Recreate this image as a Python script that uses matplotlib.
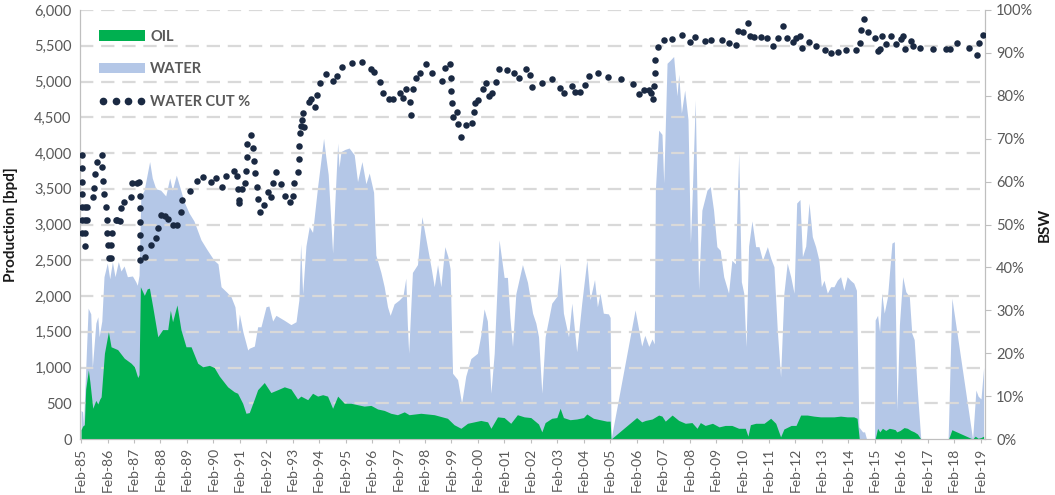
import matplotlib
matplotlib.use("Agg")
import matplotlib.pyplot as plt
from matplotlib.patches import Patch
from matplotlib.lines import Line2D
from matplotlib.ticker import FuncFormatter, MultipleLocator

plt.rcParams['font.family'] = ['Lato', 'DejaVu Sans']

# x values are months since Feb-1985
gross_months = [0, 0.7, 1.1, 3.2, 4.4, 5.1, 6.7, 7.6, 8.2, 9.4, 10.4, 11.9, 13.0, 14.2, 15.4, 16.9,
                18.1, 19.5, 21.0, 23.3, 24.8, 25.5, 26.3, 27.1, 28.6, 30.1, 31.1, 32.3, 33.9, 36.1,
                38.4, 40.2, 41.4, 43.2, 45.2, 46.7, 49.0, 51.2, 54.4, 57.1, 60.3, 62.1, 63.5, 66.2,
                68.0, 69.8, 71.0, 71.8, 73.4, 75.6, 76.3, 78.6, 80.1, 81.6, 83.9, 85.2, 86.9, 88.4,
                92.2, 95.2, 97.5, 98.8, 99.6, 100.5, 102.0, 103.5, 105.0, 107.3, 108.8, 110.0,
                111.0, 112.1, 114.1, 115.1, 116.4, 117.0, 117.9, 119.7, 121.6, 123.9, 125.4, 127.4,
                129.2, 130.7, 132.7, 133.7, 136.0, 137.5, 139.0, 140.2, 142.0, 144.3, 146.0, 147.3,
                148.0, 148.6, 150.3, 152.6, 154.6, 156.4, 158.7, 160.2, 161.7, 163.2, 165.0, 166.4,
                167.4, 168.5, 170.8, 172.6, 174.5, 176.8, 179.8, 181.3, 182.8, 184.3, 185.9, 187.4,
                189.6, 191.9, 193.4, 194.5, 195.7, 197.2, 200.2, 202.5, 204.8, 206.3, 207.5, 209.0,
                210.5, 213.5, 215.8, 217.3, 218.8, 221.1, 222.6, 224.8, 227.1, 229.4, 230.9, 232.9,
                234.2, 235.4, 236.9, 239.2, 240.0, 240.4, 251.3, 254.3, 255.7, 257.5, 259.0, 260.0,
                260.5, 262.0, 263.5, 264.3, 265.8, 267.3, 268.8, 270.3, 271.1, 272.3, 273.8, 275.3,
                276.4, 277.2, 278.6, 280.1, 281.6, 283.9, 285.4, 286.9, 288.4, 289.9, 291.5, 293.7,
                295.2, 296.8, 298.3, 299.5, 300.6, 301.6, 302.8, 304.3, 306.0, 307.5, 309.1, 311.3,
                312.8, 314.3, 315.8, 317.3, 318.8, 320.3, 321.9, 323.4, 324.6, 326.1, 327.2, 328.7,
                330.2, 331.7, 333.2, 334.7, 335.8, 337.0, 338.5, 340.0, 341.5, 343.0, 344.5, 346.0,
                347.5, 349.0, 350.5, 351.7, 352.8, 354.5, 355.4, 356.3, 359.9, 360.2, 361.3, 362.2,
                363.2, 364.3, 365.8, 367.8, 368.9, 370.1, 371.2, 372.7, 374.1, 375.7, 376.8, 377.9,
                379.4, 380.9, 393.3, 395.0, 404.4, 405.9, 406.9, 408.2, 409.4]
# oil + water (top of the WATER area)
gross_bpd = [400, 380, 200, 1830, 1750, 1000, 1620, 1710, 1430, 1650, 2270, 2460, 2240, 2480, 2270, 2480,
             2350, 2420, 2270, 2280, 2200, 2150, 2290, 3390, 3480, 3720, 3880, 3650, 3500, 3480,
             3400, 3650, 3480, 3690, 3480, 3320, 3160, 3050, 2785, 2650, 2500, 2450, 2130, 2050,
             1990, 1850, 1480, 1750, 1500, 1245, 1270, 1300, 1570, 1570, 1850, 1860, 1650, 1730,
             1660, 1600, 1640, 1945, 2730, 2030, 2700, 2970, 2890, 3530, 3900, 4205,
             3950, 3700, 2600, 3300, 4140, 3800, 4020, 4050, 4070, 3975, 3600, 3880,
             3570, 3720, 3450, 2575, 2330, 2130, 1850, 1730, 1890, 1945, 2000, 2250,
             1600, 1200, 2330, 2440, 3110, 2800, 2410, 2130, 2440, 2130, 2690, 2550,
             2380, 920, 830, 500, 880, 1125, 1200, 1450, 1820, 1650, 640, 1200,
             2785, 2260, 2260, 1700, 1295, 2030, 2440, 2190, 1760, 1620, 1430, 640,
             1430, 1900, 1995, 2460, 1760, 1430, 1900, 1220, 1900, 2500, 1950, 2230,
             1850, 2040, 1760, 1750, 1700, 0, 1805, 1300, 1450, 1295, 1400, 1330,
             3480, 4320, 4260, 3580, 5255, 5300, 5350, 4800, 5100, 4560, 4880, 4470,
             2740, 3400, 4740, 2085, 3200, 3480, 3530, 3200, 2690, 2640, 2270, 2040,
             2500, 2450, 4000, 2200, 2040, 1290, 2700, 3050, 2690, 2690, 2500, 2690,
             2530, 2410, 1525, 870, 2040, 2460, 2270, 2040, 3300, 3350, 2550, 2700,
             3300, 2830, 2690, 2500, 2130, 2220, 2040, 2130, 2130, 2220, 2270, 2080,
             2270, 2220, 2180, 2080, 170, 100, 100, 0, 0, 1665, 1730, 1500,
             2040, 1760, 1990, 2740, 2760, 400, 1600, 2270, 2060, 1990, 1480, 1390,
             640, 0, 0, 1970, 0, 685, 600, 560, 1000]

oil_months = [0, 0.7, 1.5, 2.1, 3.3, 4.0, 5.3, 6.7, 7.6, 8.5, 9.1, 10.6, 12.4, 13.6, 16.6, 19.6, 22.7,
              24.2, 25.7, 26.3, 26.9, 28.7, 30.0, 31.0, 32.5, 34.8, 37.0, 39.3, 40.5, 41.5, 43.5, 45.3,
              47.6, 49.9, 52.9, 55.2, 58.2, 60.4, 62.7, 66.5, 69.5, 71.0, 73.3, 74.8, 76.3, 78.6, 80.1,
              83.1, 86.1, 89.2, 92.2, 95.2, 98.2, 99.7, 102.8, 105.0, 107.3, 109.6, 111.8, 114.1, 116.4,
              119.4, 122.4, 125.4, 128.4, 131.5, 134.5, 137.5, 140.5, 143.5, 146.6, 148.8, 154.1, 160.2,
              166.2, 169.2, 172.3, 175.3, 178.3, 181.3, 184.4, 185.9, 188.9, 191.9, 194.9, 197.9, 201.0,
              204.0, 207.5, 209.0, 210.5, 213.5, 215.8, 217.3, 218.8, 221.8, 224.8, 227.9, 229.4, 232.4,
              235.4, 238.4, 240.0, 240.4, 252.0, 254.3, 256.0, 259.0, 262.0, 263.5, 265.0, 268.1, 271.1,
              274.1, 277.1, 279.4, 280.9, 283.1, 286.4, 289.4, 292.2, 295.2, 298.3, 301.3, 302.5, 303.6,
              306.0, 309.8, 312.8, 315.1, 317.3, 318.8, 322.1, 324.3, 326.4, 329.4, 332.4, 335.4, 338.5,
              341.5, 344.5, 347.5, 350.5, 352.0, 353.0, 360.2, 361.3, 362.3, 363.5, 365.0, 366.6, 368.2,
              369.3, 370.0, 371.5, 373.3, 374.8, 376.4, 377.9, 379.4, 380.9, 393.5, 395.0, 404.4, 405.6,
              406.9, 408.2, 409.4]
oil_bpd = [130, 180, 200, 700, 965, 800, 430, 540, 490, 560, 590, 1200, 1500, 1290, 1250, 1130, 1060,
           1010, 860, 900, 2130, 2010, 2100, 2110, 1850, 1430, 1530, 1530, 1800, 1640, 1875, 1530,
           1290, 1290, 1060, 1010, 1030, 1000, 880, 730, 660, 640, 500, 360, 370, 560, 690,
           790, 650, 690, 730, 700, 560, 600, 550, 640, 600, 620, 600, 430, 600,
           500, 500, 480, 460, 470, 420, 400, 360, 340, 380, 340, 360, 340,
           290, 200, 150, 220, 240, 260, 240, 150, 310, 300, 220, 340, 310,
           300, 210, 100, 230, 290, 300, 430, 300, 270, 280, 300, 350, 290,
           270, 250, 250, 0, 300, 240, 260, 280, 335, 320, 250, 335, 260,
           220, 230, 150, 230, 190, 220, 170, 190, 190, 150, 150, 40, 200,
           220, 220, 290, 220, 30, 140, 190, 190, 335, 335, 320, 310, 310,
           310, 320, 310, 310, 290, 0, 0, 150, 100, 150, 120, 150, 140,
           130, 100, 120, 160, 150, 120, 100, 70, 0, 0, 130, 0, 40,
           10, 20, 40]

wc_months = [0.2, 0.2, 0.2, 0.2, 0.2, 0.2, 0.2, 1.8, 1.8, 1.8, 1.8, 2.7, 2.7, 5.2, 5.9, 6.3, 7.4,
             9.4, 9.7, 10.0, 10.4, 11.2, 11.7, 11.9, 12.4, 12.7, 13.5, 13.7, 14.2, 15.7, 16.5, 17.5,
             18.0, 19.5, 22.5, 23.3, 25.5, 26.3, 26.6, 26.9, 26.9, 26.9, 26.9, 26.9, 29.0, 31.6, 33.9,
             35.0, 36.1, 38.1, 39.6, 41.8, 43.7, 45.2, 45.9, 49.4, 52.6, 55.4, 58.9, 61.2, 63.8, 65.7,
             69.2, 70.6, 71.0, 71.5, 71.7, 72.8, 74.5, 74.8, 75.1, 75.3, 77.2, 77.8, 78.3, 78.9, 79.6,
             80.1, 81.3, 83.0, 84.6, 86.1, 86.9, 88.5, 90.7, 92.6, 94.6, 96.0, 96.7, 98.2, 98.7, 99.0,
             99.4, 99.9, 100.0, 100.8, 101.0, 103.4, 104.4, 106.0, 107.0, 108.2, 110.9, 114.2, 116.2,
             118.4, 123.0, 127.4, 131.6, 132.8, 135.4, 136.9, 139.6, 141.4, 144.5, 146.0, 147.5, 149.0,
             149.7, 150.5, 151.7, 153.7, 156.4, 159.2, 163.5, 165.0, 167.3, 167.7, 168.0, 168.3, 168.5,
             170.6, 171.0, 172.3, 174.4, 177.1, 178.2, 178.6, 180.1, 182.1, 183.9, 184.9, 186.2, 188.1,
             189.5, 193.0, 196.4, 198.6, 201.7, 203.7, 204.4, 209.3, 213.8, 217.3, 219.1, 222.6, 224.1,
             226.3, 228.6, 230.6, 234.7, 239.2, 244.8, 250.2, 253.3, 255.2, 257.5, 258.7, 259.3, 260.0,
             260.2, 260.5, 261.6, 264.3, 268.0, 272.6, 276.1, 278.6, 282.9, 285.7, 290.7, 293.7, 297.1,
             298.0, 300.1, 302.4, 303.6, 305.2, 308.2, 311.3, 314.0, 316.3, 318.6, 320.1, 322.9, 324.2,
             326.1, 327.2, 330.2, 333.5, 337.3, 340.0, 343.3, 347.1, 351.6, 353.1, 354.0, 355.1, 356.8,
             360.2, 361.3, 362.3, 363.5, 365.0, 367.3, 369.5, 371.8, 373.0, 373.6, 376.4, 377.2, 380.5,
             386.3, 392.3, 394.3, 397.1, 402.6, 406.4, 407.5, 409.3]
wc_pct = [66.2, 63.1, 60.0, 57.0, 54.0, 51.0, 48.1, 54.0, 51.0, 48.0, 45.0, 54.0, 51.0, 56.5, 58.4, 61.8, 64.6,
          66.2, 63.3, 60.2, 57.1, 54.0, 51.1, 48.0, 45.2, 42.3, 42.3, 45.2, 48.1, 51.1, 51.1, 50.9,
          53.9, 55.3, 56.4, 59.6, 59.6, 59.8, 56.6, 53.8, 50.7, 47.6, 44.6, 41.7, 42.5, 45.2, 46.8,
          49.1, 52.2, 52.0, 51.3, 49.9, 50.0, 52.8, 55.7, 57.9, 60.2, 61.0, 60.0, 60.8, 58.7, 61.3,
          62.5, 61.3, 58.2, 55.7, 55.0, 58.2, 59.6, 62.5, 65.7, 68.8, 70.9, 67.8, 64.8, 61.9, 58.8,
          55.9, 53.0, 54.5, 57.5, 56.5, 59.6, 62.2, 59.4, 56.7, 55.2, 56.6, 59.6, 62.3, 65.3, 68.4,
          71.4, 73.0, 74.4, 75.9, 72.8, 78.6, 79.2, 77.3, 80.2, 83.1, 85.1, 83.4, 84.6,
          86.6, 87.7, 87.9, 86.2, 85.6, 83.3, 80.6, 79.2, 79.2, 80.7, 79.4, 81.7, 78.6,
          75.5, 81.5, 84.2, 85.4, 87.4, 85.2, 83.5, 86.4, 87.4, 84.2, 81.2, 78.3, 75.1,
          76.3, 73.4, 70.3, 73.1, 73.6, 76.3, 78.3, 79.0, 81.6, 83.1, 80.0, 80.7, 83.3,
          86.2, 86.0, 85.4, 84.1, 86.2, 84.8, 82.0, 82.9, 83.8, 81.9, 80.6, 82.3, 80.8,
          80.8, 82.5, 84.6, 85.2, 84.3, 83.8, 82.8, 80.4, 81.4, 81.4, 80.6, 79.2, 82.3,
          85.2, 88.3, 91.3, 93.0, 93.2, 94.2, 92.5, 93.6, 92.8, 93.0, 93.0, 92.2, 91.8,
          95.0, 94.8, 97.0, 94.0, 93.8, 93.6, 93.4, 91.7, 93.4, 96.3, 93.4, 92.6, 93.4,
          93.9, 91.1, 92.6, 91.7, 90.7, 89.9, 90.3, 90.7, 90.7, 92.4, 95.3, 97.8, 94.8,
          93.4, 90.4, 90.9, 93.9, 92.0, 93.9, 92.0, 93.2, 93.9, 90.9, 92.8, 91.5, 91.2,
          90.9, 90.9, 90.9, 92.2, 91.2, 89.5, 92.2, 94.2]

tick_months = list(range(0, 409, 12))
tick_labels = ['Feb-85', 'Feb-86', 'Feb-87', 'Feb-88', 'Feb-89', 'Feb-90', 'Feb-91', 'Feb-92',
               'Feb-93', 'Feb-94', 'Feb-95', 'Feb-96', 'Feb-97', 'Feb-98', 'Feb-99', 'Feb-00',
               'Feb-01', 'Feb-02', 'Feb-03', 'Feb-04', 'Feb-05', 'Feb-06', 'Feb-07', 'Feb-08',
               'Feb-09', 'Feb-10', 'Feb-11', 'Feb-12', 'Feb-13', 'Feb-14', 'Feb-15', 'Feb-16',
               'Feb-17', 'Feb-18', 'Feb-19']

OIL_C = '#00B050'
WATER_C = '#B4C7E7'
DOT_C = '#1A2942'
GRID_C = '#D9D9D9'
TXT_C = '#595959'
SPINE_C = '#BFBFBF'

fig = plt.figure(figsize=(10.55, 4.95), dpi=100)
ax = fig.add_axes([0.0758, 0.1131, 0.8578, 0.8667])

ax.fill_between(gross_months, 0, gross_bpd, color=WATER_C, lw=0, zorder=1)
ax.fill_between(oil_months, 0, oil_bpd, color=OIL_C, lw=0, zorder=3)

ax.set_ylim(0, 6000)
ax.set_xlim(-0.5, 410)
ax.yaxis.set_major_locator(MultipleLocator(500))
ax.yaxis.set_major_formatter(FuncFormatter(lambda v, p: f"{int(v):,}"))
for v in range(500, 6001, 500):
    ax.axhline(v, color=GRID_C, lw=1.6, ls=(0, (6, 3.5)), zorder=2)

ax.set_xticks(tick_months)
ax.set_xticklabels(tick_labels, rotation=90, fontsize=10, color=TXT_C)
ax.tick_params(axis='y', labelsize=10.5, labelcolor=TXT_C, length=0, pad=6)
ax.tick_params(axis='x', length=3, color=SPINE_C, pad=3)
ax.spines['top'].set_visible(False)
for s in ['left', 'bottom', 'right']:
    ax.spines[s].set_color(SPINE_C)
ax.set_ylabel('Production [bpd]', fontsize=11, fontweight='bold', color='#1a1a1a')
ax.yaxis.set_label_coords(-0.068, 0.5)

ax2 = ax.twinx()
ax2.scatter(wc_months, wc_pct, s=22, color=DOT_C, zorder=5, linewidths=0)
ax2.set_ylim(0, 100)
ax2.yaxis.set_major_locator(MultipleLocator(10))
ax2.yaxis.set_major_formatter(FuncFormatter(lambda v, p: f"{int(v)}%"))
ax2.tick_params(axis='y', labelsize=10.5, labelcolor=TXT_C, length=4, color=SPINE_C, pad=4)
ax2.spines['top'].set_visible(False)
for s in ['left', 'bottom', 'right']:
    ax2.spines[s].set_color(SPINE_C)
fig.text(1045 / 1055, 1 - 225 / 495, 'BSW', rotation=90, ha='center', va='center',
         fontsize=11, fontweight='bold', color='#1a1a1a')

handles = [Patch(facecolor=OIL_C, edgecolor='none'),
           Patch(facecolor=WATER_C, edgecolor='none'),
           Line2D([], [], ls='none', marker='o', markersize=4.5, color=DOT_C)]
leg = ax2.legend(handles, ['OIL', 'WATER', 'WATER CUT %'], loc='upper left',
                 bbox_to_anchor=(0.006, 0.985), frameon=False, handlelength=3.2,
                 handleheight=0.75, labelspacing=1.28, handletextpad=0.35, numpoints=4,
                 prop={'size': 10.5, 'weight': 'bold'})
for t in leg.get_texts():
    t.set_color(TXT_C)

fig.savefig('out.png', dpi=100)
